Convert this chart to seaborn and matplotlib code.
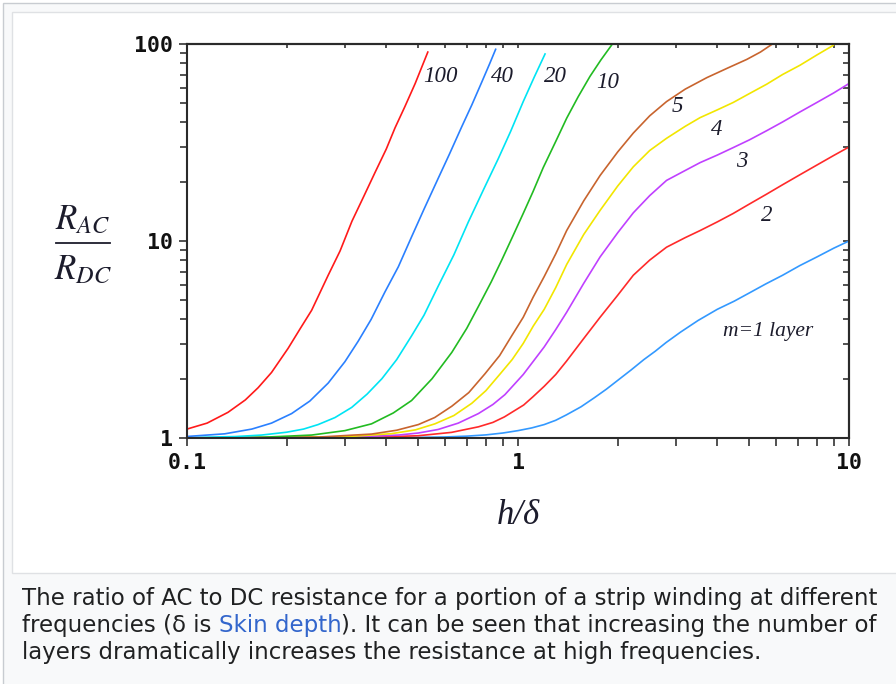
import numpy as np
import pandas as pd
import matplotlib
matplotlib.use('Agg')
import matplotlib.pyplot as plt
from matplotlib.patches import Rectangle
from matplotlib.ticker import NullFormatter
import seaborn as sns

# curves: h/delta -> R_AC/R_DC, one pair of lists per layer count
x_m1 = [0.1, 0.4, 0.6, 0.7, 0.8, 0.9, 1.0, 1.1, 1.2, 1.3, 1.4, 1.55, 1.7, 1.85, 2.0, 2.2,
        2.4, 2.6, 2.8, 3.1, 3.5, 4.0, 4.5, 5.0, 5.6, 6.3, 7.1, 8.0, 9.0, 10]
y_m1 = [1.0, 1.002, 1.012, 1.022, 1.037, 1.06, 1.09, 1.125, 1.17, 1.23, 1.31, 1.44, 1.6, 1.77, 1.96, 2.22,
        2.5, 2.76, 3.05, 3.45, 3.95, 4.5, 4.95, 5.45, 6.05, 6.7, 7.5, 8.3, 9.2, 10.0]
x_m2 = [0.1, 0.35, 0.5, 0.63, 0.76, 0.84, 0.91, 1.04, 1.11, 1.2, 1.3, 1.4, 1.58, 1.77, 2.0,
        2.23, 2.5, 2.81, 3.2, 3.55, 4.0, 4.47, 5.0, 5.64, 6.3, 7.11, 8.0, 9.0, 10]
y_m2 = [1.0, 1.006, 1.027, 1.068, 1.14, 1.2, 1.28, 1.47, 1.62, 1.83, 2.1, 2.45, 3.2, 4.1, 5.3,
        6.7, 8.0, 9.3, 10.4, 11.3, 12.5, 13.8, 15.4, 17.3, 19.3, 21.7, 24.3, 27.2, 30]
x_m3 = [0.1, 0.3, 0.435, 0.5, 0.574, 0.66, 0.759, 0.84, 0.913, 1.037, 1.112, 1.2, 1.3, 1.403, 1.58, 1.77,
        2.0, 2.23, 2.5, 2.81, 3.2, 3.55, 4.0, 4.47, 5.0, 5.64, 6.3, 7.11, 8.0, 9.0, 10]
y_m3 = [1.0, 1.008, 1.035, 1.06, 1.105, 1.19, 1.33, 1.48, 1.66, 2.1, 2.45, 2.9, 3.55, 4.35, 6.1, 8.3,
        11.0, 13.9, 17.0, 20.3, 22.8, 25.0, 27.3, 29.8, 32.6, 36.3, 40.2, 45.2, 50.5, 56.5, 63]
x_m4 = [0.1, 0.3, 0.415, 0.49, 0.561, 0.64, 0.725, 0.8, 0.88, 0.96, 1.037, 1.112, 1.2, 1.3, 1.403, 1.58,
        1.77, 2.0, 2.23, 2.5, 2.81, 3.2, 3.55, 4.0, 4.47, 5.0, 5.64, 6.3, 7.11, 8.0, 8.97]
y_m4 = [1.0, 1.014, 1.052, 1.1, 1.18, 1.3, 1.5, 1.74, 2.1, 2.5, 3.02, 3.7, 4.5, 5.8, 7.6, 10.8,
        14.3, 19.0, 23.8, 28.8, 33.2, 38.2, 42.3, 46.3, 50.5, 56, 62.5, 70, 78, 88, 98.5]
x_m5 = [0.1, 0.25, 0.361, 0.43, 0.5, 0.56, 0.631, 0.71, 0.795, 0.88, 0.957, 1.037, 1.112, 1.2, 1.3,
        1.403, 1.58, 1.77, 2.0, 2.23, 2.5, 2.81, 3.2, 3.72, 4.3, 4.91, 5.4, 5.87]
y_m5 = [1.0, 1.011, 1.047, 1.095, 1.17, 1.27, 1.45, 1.7, 2.12, 2.62, 3.3, 4.1, 5.2, 6.6, 8.6,
        11.3, 16.0, 21.5, 28.3, 35.3, 43.2, 51, 59, 67.5, 75.5, 83.5, 91, 100]
x_m10 = [0.1, 0.17, 0.238, 0.3, 0.361, 0.42, 0.477, 0.55, 0.631, 0.7, 0.759, 0.83, 0.893, 0.96,
         1.037, 1.11, 1.192, 1.3, 1.403, 1.52, 1.65, 1.78, 1.92]
y_m10 = [1.001, 1.009, 1.035, 1.09, 1.18, 1.34, 1.55, 2.0, 2.72, 3.6, 4.65, 6.2, 8.0, 10.4,
         13.8, 17.8, 23.6, 32, 42, 54, 68.5, 83, 99]
x_m20 = [0.1, 0.14, 0.168, 0.2, 0.225, 0.249, 0.28, 0.3145, 0.35, 0.388, 0.43, 0.477, 0.52, 0.574,
         0.64, 0.708, 0.79, 0.872, 0.95, 1.037, 1.12, 1.207]
y_m20 = [1.004, 1.017, 1.035, 1.07, 1.11, 1.17, 1.27, 1.43, 1.67, 2.0, 2.5, 3.3, 4.2, 5.9,
         8.5, 12.5, 18.5, 26.2, 36, 51, 68, 89]
x_m40 = [0.1, 0.13, 0.157, 0.18, 0.207, 0.235, 0.267, 0.3, 0.329, 0.36, 0.396, 0.435, 0.477, 0.52,
         0.574, 0.62, 0.676, 0.725, 0.777, 0.82, 0.856]
y_m40 = [1.018, 1.05, 1.11, 1.19, 1.33, 1.54, 1.9, 2.44, 3.1, 4.0, 5.5, 7.4, 10.5, 14.5,
         20.8, 27.5, 38, 49, 64, 79, 94]
x_m100 = [0.1, 0.115, 0.133, 0.15, 0.164, 0.18, 0.202, 0.22, 0.238, 0.267, 0.29, 0.315, 0.34,
          0.37, 0.4, 0.425, 0.455, 0.489, 0.534]
y_m100 = [1.11, 1.19, 1.35, 1.56, 1.8, 2.15, 2.85, 3.6, 4.45, 6.7, 8.9, 12.6, 16.5,
          22.3, 29.3, 37.5, 48, 63, 91]

layers = [1, 2, 3, 4, 5, 10, 20, 40, 100]
curve_labels = ['m=1 layer', '2', '3', '4', '5', '10', '20', '40', '100']

xs = [x_m1, x_m2, x_m3, x_m4, x_m5, x_m10, x_m20, x_m40, x_m100]
ys = [y_m1, y_m2, y_m3, y_m4, y_m5, y_m10, y_m20, y_m40, y_m100]

df = pd.concat([pd.DataFrame({'h': x, 'r': y, 'm': m}) for x, y, m in zip(xs, ys, layers)])

colors = {1: '#3399ff', 2: '#ff2a2a', 3: '#c040ff', 4: '#f2e600', 5: '#c8642e',
          10: '#22bb22', 20: '#00e4f4', 40: '#2a80ff', 100: '#ff1a1a'}

# where the curve names sit
label_pos = [(5.69, 3.49), (5.65, 13.55), (4.75, 25.2), (3.99, 37), (3.04, 47.9),
             (1.87, 63.4), (1.30, 68), (0.90, 68), (0.585, 68)]

W, H = 896, 684
fig = plt.figure(figsize=(W / 100, H / 100), dpi=100)
fig.patch.set_facecolor('white')

# wiki thumbnail frame
fig.add_artist(Rectangle((3, -10), W + 20, H + 10 - 3, transform=None,
                         facecolor='#f8f9fa', edgecolor='#c8ccd1', lw=1.0, zorder=0))
fig.add_artist(Rectangle((12, H - 573), W + 20, 573 - 12, transform=None,
                         facecolor='white', edgecolor='#dfe1e4', lw=1.0, zorder=0))

ax = fig.add_axes([187 / W, 1 - 438 / H, 662 / W, 394 / H])
ax.set_facecolor('none')

sns.lineplot(data=df, x='h', y='r', hue='m', palette=colors, legend=False,
             sort=False, estimator=None, lw=1.2, ax=ax)

ax.set_xscale('log')
ax.set_yscale('log')
ax.set_xlim(0.1, 10)
ax.set_ylim(1, 100)
ax.set_xlabel('')
ax.set_ylabel('')

ax.set_xticks([0.1, 1, 10], labels=['0.1', '1', '10'])
ax.set_yticks([1, 10, 100], labels=['1', '10', '100'])
ax.xaxis.set_minor_formatter(NullFormatter())
ax.yaxis.set_minor_formatter(NullFormatter())
for t in ax.get_xticklabels() + ax.get_yticklabels():
    t.set_fontfamily('DejaVu Sans Mono')
    t.set_fontweight('bold')
    t.set_fontsize(15.5)
    t.set_color('#111111')

ax.tick_params(axis='both', which='both', direction='out', width=1.1, color='#222222',
               top=False, right=False)
ax.tick_params(axis='y', which='major', length=6, pad=4)
ax.tick_params(axis='y', which='minor', length=5)
ax.tick_params(axis='x', which='both', length=6, pad=5)

for s in ax.spines.values():
    s.set_linewidth(1.5)
    s.set_color('#2a2a2a')

sec_x = ax.secondary_xaxis('top')
sec_x.tick_params(which='both', direction='in', length=3, width=1.1, color='#222222')
sec_x.xaxis.set_major_formatter(NullFormatter())
sec_x.xaxis.set_minor_formatter(NullFormatter())
sec_x.spines['top'].set_linewidth(1.5)
sec_y = ax.secondary_yaxis('right')
sec_y.tick_params(which='both', direction='in', length=4, width=1.1, color='#222222')
sec_y.yaxis.set_major_formatter(NullFormatter())
sec_y.yaxis.set_minor_formatter(NullFormatter())
sec_y.spines['right'].set_linewidth(1.5)

for txt, (px, py) in zip(curve_labels, label_pos):
    ax.text(px, py, txt, fontfamily='Liberation Serif', style='italic',
            fontsize=15.5 if txt.startswith('m') else 16.5,
            color='#1c1c2c', ha='center', va='center')

plt.rcParams['mathtext.fontset'] = 'stix'
fig.text(83 / W, 1 - 219 / H, r'$R_{AC}$', fontsize=25, ha='center', va='center', color='#1c1c2c')
fig.text(83 / W, 1 - 269 / H, r'$R_{DC}$', fontsize=25, ha='center', va='center', color='#1c1c2c')
fig.add_artist(plt.Line2D([56 / W, 110 / W], [1 - 243 / H, 1 - 243 / H], color='#1c1c2c', lw=1.3))
fig.text(518 / W, 1 - 516 / H, 'h/δ', fontfamily='Liberation Serif', style='italic',
         fontsize=25, ha='center', va='center', color='#1c1c2c')

# caption
cap_kw = dict(fontfamily='DejaVu Sans', fontsize=16.5, color='#202122', va='baseline')
fig.text(22 / W, 1 - 605 / H, 'The ratio of AC to DC resistance for a portion of a strip winding at different', **cap_kw)
t1 = fig.text(22 / W, 1 - 632 / H, 'frequencies (δ is ', **cap_kw)
t2 = fig.text(0, 0, 'Skin depth', **{**cap_kw, 'color': '#3366cc'})
t3 = fig.text(0, 0, '). It can be seen that increasing the number of', **cap_kw)
fig.text(22 / W, 1 - 659 / H, 'layers dramatically increases the resistance at high frequencies.', **cap_kw)

r = fig.canvas.get_renderer()
x_cur = t1.get_window_extent(r).x1
t2.set_position((x_cur / W, 1 - 632 / H))
x_cur = t2.get_window_extent(r).x1
t3.set_position((x_cur / W, 1 - 632 / H))

fig.savefig('out.png', dpi=100)
